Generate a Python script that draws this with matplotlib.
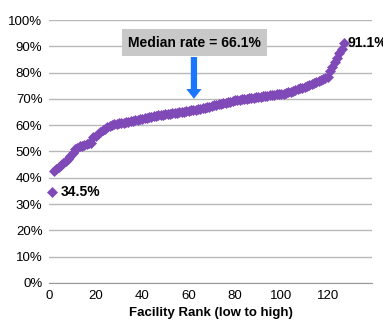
import numpy as np
import matplotlib
matplotlib.use("Agg")
import matplotlib.pyplot as plt
from matplotlib.ticker import PercentFormatter

plt.rcParams['font.family'] = ['Liberation Sans', 'DejaVu Sans']

# facility rates (%), sorted low to high
rates = [34.5,
         42.7, 43.5, 44.2, 45.0, 45.6, 46.3, 47.2, 48.4, 49.6,
         50.8, 51.4, 51.9, 52.2, 52.5, 52.8, 53.1, 53.4,
         55.4, 56.0, 56.8, 57.5, 58.1, 58.6, 59.2, 59.7, 60.1,
         60.3, 60.5, 60.7, 60.9, 61.0, 61.2, 61.4, 61.6, 61.7, 61.9,
         62.0, 62.2, 62.4, 62.6, 62.8, 63.0, 63.2, 63.4,
         63.6, 63.7, 63.8, 64.0, 64.1, 64.2, 64.4, 64.5, 64.6, 64.8,
         64.9, 65.0, 65.2, 65.3, 65.5, 65.6, 65.8, 65.9, 66.1,
         66.3, 66.5, 66.7, 66.9, 67.1, 67.3, 67.5, 67.7, 67.9, 68.1,
         68.3, 68.6, 68.8, 69.0, 69.2, 69.4, 69.6,
         69.7, 69.8, 70.0, 70.1, 70.2, 70.4, 70.5, 70.6, 70.8, 70.9,
         71.0, 71.1, 71.3, 71.4, 71.5, 71.6, 71.7, 71.8, 71.9, 72.0, 72.2,
         72.5, 72.8, 73.1, 73.4, 73.7, 74.0, 74.3, 74.6, 75.0, 75.3,
         75.7, 76.0, 76.4, 76.8, 77.2, 77.6, 78.0, 78.4,
         80.5, 82.0, 84.0, 85.5, 87.5, 89.0, 91.1]
rank = np.arange(1, len(rates) + 1)
median = 66.1
purple = '#8049b8'

fig = plt.figure(figsize=(3.83, 3.24), dpi=100)
ax = fig.add_axes([0.129, 0.127, 0.842, 0.811])

ax.plot(rank, rates, 'D', color=purple, ms=5.5, mec=purple, mew=0.5, zorder=3, clip_on=False)

ax.set_xlim(0, 139)
ax.set_ylim(0, 100)
ax.set_xticks([0, 20, 40, 60, 80, 100, 120])
ax.set_yticks(np.arange(0, 101, 10))
ax.yaxis.set_major_formatter(PercentFormatter(100, decimals=0))
ax.grid(axis='y', color='#b8b8b8', lw=1)
ax.set_axisbelow(True)
for s in ['left', 'right', 'top']:
    ax.spines[s].set_visible(False)
ax.spines['bottom'].set_color('#999999')
ax.tick_params(length=0, labelsize=9.5, pad=5)
ax.set_xlabel('Facility Rank (low to high)', fontsize=9.5, fontweight='bold', labelpad=4)

# end labels
ax.text(rank[0] + 4, rates[0], '34.5%', fontsize=10, fontweight='bold', va='center')
ax.text(rank[-1] + 1.5, rates[-1], '91.1%', fontsize=10, fontweight='bold', va='center',
        clip_on=False)

# median callout
ax.annotate('', xy=(62.3, 69), xytext=(62.3, 87),
            arrowprops=dict(arrowstyle='simple,head_width=1.1,head_length=0.7,tail_width=0.45',
                            color='#1a75ff', lw=0))
ax.text(62.6, 91.4, 'Median rate = ' + str(median) + '%', fontsize=10, fontweight='bold',
        ha='center', va='center',
        bbox=dict(boxstyle='square,pad=0.45', fc='#c8c8c8', ec='none'))

plt.savefig('out.png', dpi=100)
